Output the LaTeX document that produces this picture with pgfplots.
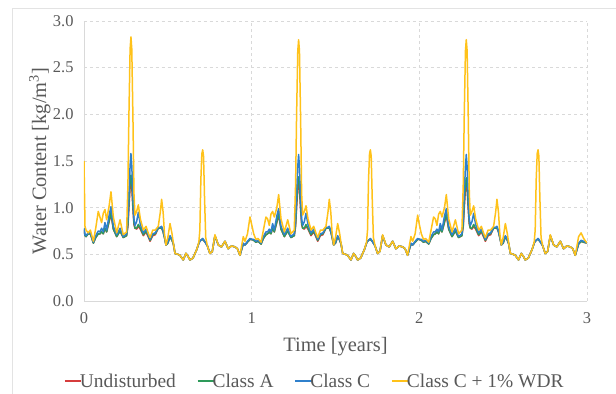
\documentclass[border=0pt]{standalone}
\usepackage{fontspec}
\setmainfont{Liberation Serif}
\usepackage{pgfplots}
\usepackage{pgfplotstable}
\pgfplotsset{compat=1.18}
\definecolor{cU}{HTML}{D63C3C}
\definecolor{cA}{HTML}{2E9A5A}
\definecolor{cC}{HTML}{2F80CC}
\definecolor{cW}{HTML}{FFC21A}
\definecolor{txt}{HTML}{595959}
\pgfplotstableread{
t R G B Y
0.000 0.76 0.77 0.78 1.50
0.006 0.70 0.70 0.71 0.80
0.012 0.69 0.69 0.70 0.76
0.025 0.72 0.72 0.73 0.73
0.038 0.72 0.72 0.73 0.76
0.056 0.62 0.62 0.63 0.64
0.070 0.68 0.68 0.70 0.78
0.085 0.72 0.72 0.75 0.96
0.095 0.72 0.72 0.74 0.90
0.105 0.74 0.74 0.78 0.84
0.115 0.72 0.72 0.74 0.94
0.125 0.78 0.78 0.84 0.98
0.135 0.74 0.74 0.76 0.87
0.150 0.85 0.86 0.92 1.02
0.161 0.93 0.95 1.01 1.17
0.175 0.77 0.77 0.80 0.90
0.195 0.69 0.69 0.71 0.73
0.215 0.75 0.75 0.78 0.87
0.234 0.68 0.68 0.69 0.71
0.254 0.70 0.70 0.72 0.74
0.262 0.80 0.82 0.88 1.25
0.268 1.00 1.05 1.15 2.00
0.275 1.22 1.28 1.45 2.70
0.280 1.30 1.35 1.58 2.83
0.285 1.22 1.28 1.45 2.70
0.292 0.98 1.02 1.12 1.95
0.298 0.82 0.84 0.88 1.15
0.304 0.78 0.78 0.81 0.92
0.314 0.77 0.78 0.85 0.96
0.324 0.80 0.82 0.95 1.03
0.336 0.77 0.78 0.82 0.88
0.354 0.70 0.71 0.73 0.76
0.370 0.74 0.75 0.77 0.80
0.385 0.68 0.69 0.70 0.72
0.394 0.64 0.65 0.66 0.68
0.410 0.70 0.71 0.72 0.76
0.425 0.71 0.72 0.73 0.76
0.443 0.78 0.78 0.79 0.80
0.455 0.78 0.78 0.79 0.95
0.463 0.78 0.79 0.80 1.09
0.472 0.74 0.74 0.75 0.95
0.480 0.68 0.68 0.69 0.72
0.489 0.60 0.60 0.60 0.60
0.500 0.62 0.62 0.63 0.68
0.513 0.69 0.69 0.70 0.83
0.525 0.65 0.65 0.66 0.72
0.533 0.61 0.61 0.62 0.62
0.543 0.51 0.51 0.51 0.51
0.560 0.50 0.50 0.50 0.50
0.572 0.49 0.49 0.49 0.49
0.592 0.44 0.44 0.44 0.44
0.608 0.51 0.51 0.51 0.51
0.620 0.48 0.48 0.48 0.48
0.632 0.44 0.44 0.44 0.44
0.650 0.46 0.46 0.46 0.46
0.672 0.55 0.55 0.55 0.55
0.685 0.62 0.62 0.62 0.63
0.691 0.64 0.64 0.64 0.76
0.697 0.65 0.65 0.65 1.30
0.703 0.66 0.66 0.66 1.58
0.708 0.66 0.66 0.67 1.62
0.713 0.65 0.65 0.66 1.55
0.719 0.64 0.64 0.64 1.10
0.726 0.62 0.62 0.62 0.68
0.736 0.59 0.59 0.59 0.59
0.751 0.51 0.51 0.51 0.51
0.765 0.53 0.53 0.53 0.53
0.781 0.70 0.70 0.70 0.71
0.801 0.60 0.60 0.60 0.60
0.820 0.58 0.58 0.58 0.58
0.841 0.64 0.64 0.64 0.64
0.860 0.56 0.56 0.56 0.56
0.880 0.59 0.59 0.59 0.59
0.900 0.58 0.58 0.58 0.58
0.915 0.56 0.56 0.56 0.56
0.930 0.49 0.49 0.49 0.49
0.950 0.61 0.61 0.62 0.69
0.960 0.60 0.60 0.60 0.64
0.975 0.63 0.63 0.64 0.72
0.990 0.66 0.66 0.67 0.90
1.000 0.66 0.66 0.66 0.82
1.012 0.65 0.65 0.66 0.72
1.025 0.63 0.63 0.64 0.66
1.038 0.64 0.64 0.65 0.67
1.056 0.61 0.61 0.62 0.63
1.070 0.67 0.67 0.69 0.76
1.085 0.71 0.71 0.74 0.90
1.095 0.72 0.72 0.74 0.88
1.105 0.74 0.74 0.77 0.81
1.115 0.72 0.72 0.74 0.93
1.125 0.78 0.78 0.83 0.96
1.135 0.74 0.74 0.76 0.90
1.150 0.84 0.85 0.91 1.00
1.161 0.92 0.94 0.99 1.14
1.175 0.77 0.77 0.80 0.88
1.195 0.69 0.69 0.71 0.74
1.215 0.75 0.75 0.78 0.87
1.234 0.68 0.68 0.69 0.72
1.254 0.70 0.70 0.72 0.76
1.262 0.80 0.82 0.88 1.25
1.268 1.00 1.04 1.15 2.00
1.275 1.20 1.26 1.44 2.68
1.280 1.28 1.33 1.57 2.80
1.285 1.20 1.26 1.44 2.68
1.292 0.97 1.01 1.11 1.95
1.298 0.82 0.84 0.88 1.15
1.304 0.78 0.78 0.81 0.92
1.314 0.77 0.78 0.85 0.96
1.324 0.80 0.82 0.94 1.02
1.336 0.77 0.78 0.82 0.88
1.354 0.70 0.71 0.73 0.76
1.370 0.74 0.75 0.77 0.80
1.385 0.68 0.69 0.70 0.72
1.394 0.64 0.65 0.66 0.68
1.410 0.70 0.71 0.72 0.76
1.425 0.71 0.72 0.73 0.76
1.443 0.78 0.78 0.79 0.80
1.455 0.78 0.78 0.79 0.95
1.463 0.78 0.79 0.80 1.09
1.472 0.74 0.74 0.75 0.95
1.480 0.68 0.68 0.69 0.72
1.489 0.60 0.60 0.60 0.60
1.500 0.62 0.62 0.63 0.68
1.513 0.69 0.69 0.70 0.83
1.525 0.65 0.65 0.66 0.72
1.533 0.61 0.61 0.62 0.62
1.543 0.51 0.51 0.51 0.51
1.560 0.50 0.50 0.50 0.50
1.572 0.49 0.49 0.49 0.49
1.592 0.44 0.44 0.44 0.44
1.608 0.51 0.51 0.51 0.51
1.620 0.48 0.48 0.48 0.48
1.632 0.44 0.44 0.44 0.44
1.650 0.46 0.46 0.46 0.46
1.672 0.55 0.55 0.55 0.55
1.685 0.62 0.62 0.62 0.63
1.691 0.64 0.64 0.64 0.76
1.697 0.65 0.65 0.65 1.30
1.703 0.66 0.66 0.66 1.58
1.708 0.66 0.66 0.67 1.62
1.713 0.65 0.65 0.66 1.55
1.719 0.64 0.64 0.64 1.10
1.726 0.62 0.62 0.62 0.68
1.736 0.59 0.59 0.59 0.59
1.751 0.51 0.51 0.51 0.51
1.765 0.53 0.53 0.53 0.53
1.781 0.70 0.70 0.70 0.71
1.801 0.60 0.60 0.60 0.60
1.820 0.58 0.58 0.58 0.58
1.841 0.64 0.64 0.64 0.64
1.860 0.56 0.56 0.56 0.56
1.880 0.59 0.59 0.59 0.59
1.900 0.58 0.58 0.58 0.58
1.915 0.56 0.56 0.56 0.56
1.930 0.49 0.49 0.49 0.49
1.950 0.61 0.61 0.62 0.69
1.960 0.60 0.60 0.60 0.64
1.975 0.63 0.63 0.64 0.72
1.990 0.66 0.66 0.67 0.92
2.000 0.66 0.66 0.66 0.82
2.012 0.65 0.65 0.66 0.72
2.025 0.63 0.63 0.64 0.66
2.038 0.64 0.64 0.65 0.67
2.056 0.61 0.61 0.62 0.63
2.070 0.67 0.67 0.69 0.76
2.085 0.71 0.71 0.74 0.90
2.095 0.72 0.72 0.74 0.88
2.105 0.74 0.74 0.77 0.81
2.115 0.72 0.72 0.74 0.93
2.125 0.78 0.78 0.83 0.96
2.135 0.74 0.74 0.76 0.90
2.150 0.84 0.85 0.91 1.00
2.161 0.92 0.94 0.99 1.14
2.175 0.77 0.77 0.80 0.88
2.195 0.69 0.69 0.71 0.74
2.215 0.75 0.75 0.78 0.87
2.234 0.68 0.68 0.69 0.72
2.254 0.70 0.70 0.72 0.76
2.262 0.80 0.82 0.88 1.25
2.268 1.00 1.04 1.15 2.00
2.275 1.20 1.25 1.44 2.68
2.280 1.28 1.32 1.57 2.80
2.285 1.20 1.25 1.44 2.68
2.292 0.97 1.01 1.11 1.95
2.298 0.82 0.84 0.88 1.15
2.304 0.78 0.78 0.81 0.92
2.314 0.77 0.78 0.85 0.96
2.324 0.80 0.82 0.94 1.02
2.336 0.77 0.78 0.82 0.88
2.354 0.70 0.71 0.73 0.76
2.370 0.74 0.75 0.77 0.80
2.385 0.68 0.69 0.70 0.72
2.394 0.64 0.65 0.66 0.68
2.410 0.70 0.71 0.72 0.76
2.425 0.71 0.72 0.73 0.76
2.443 0.78 0.78 0.79 0.80
2.455 0.78 0.78 0.79 0.95
2.463 0.78 0.79 0.80 1.09
2.472 0.74 0.74 0.75 0.95
2.480 0.68 0.68 0.69 0.72
2.489 0.60 0.60 0.60 0.60
2.500 0.62 0.62 0.63 0.68
2.513 0.69 0.69 0.70 0.83
2.525 0.65 0.65 0.66 0.72
2.533 0.61 0.61 0.62 0.62
2.543 0.51 0.51 0.51 0.51
2.560 0.50 0.50 0.50 0.50
2.572 0.49 0.49 0.49 0.49
2.592 0.44 0.44 0.44 0.44
2.608 0.51 0.51 0.51 0.51
2.620 0.48 0.48 0.48 0.48
2.632 0.44 0.44 0.44 0.44
2.650 0.46 0.46 0.46 0.46
2.672 0.55 0.55 0.55 0.55
2.685 0.62 0.62 0.62 0.63
2.691 0.64 0.64 0.64 0.76
2.697 0.65 0.65 0.65 1.30
2.703 0.66 0.66 0.66 1.58
2.708 0.66 0.66 0.67 1.62
2.713 0.65 0.65 0.66 1.55
2.719 0.64 0.64 0.64 1.10
2.726 0.62 0.62 0.62 0.68
2.736 0.59 0.59 0.59 0.59
2.751 0.51 0.51 0.51 0.51
2.765 0.53 0.53 0.53 0.53
2.781 0.70 0.70 0.70 0.71
2.801 0.60 0.60 0.60 0.60
2.820 0.58 0.58 0.58 0.58
2.841 0.64 0.64 0.64 0.64
2.860 0.56 0.56 0.56 0.56
2.880 0.59 0.59 0.59 0.59
2.900 0.58 0.58 0.58 0.58
2.915 0.56 0.56 0.56 0.56
2.930 0.49 0.49 0.49 0.49
2.950 0.61 0.61 0.62 0.69
2.965 0.64 0.64 0.65 0.73
2.980 0.63 0.63 0.64 0.67
3.000 0.62 0.62 0.62 0.62
}\wcdata
\begin{document}
\begin{tikzpicture}
\useasboundingbox (-84bp,-93bp) rectangle (532bp,301bp);
\draw[gray!22, line width=0.8bp] (-72bp,-100bp) -- (-72bp,293bp) -- (540bp,293bp);
\begin{axis}[
  at={(0,0)}, anchor=south west,
  scale only axis, width=503bp, height=280bp,
  xmin=0, xmax=3, ymin=0, ymax=3,
  xtick={0,1,2,3}, ytick={0,0.5,...,3},
  /pgf/number format/assume math mode=true,
  yticklabel style={/pgf/number format/fixed, /pgf/number format/fixed zerofill, /pgf/number format/precision=1, xshift=-7bp},
  xticklabel style={yshift=-8bp},
  axis x line*=bottom, axis y line*=left,
  axis line style={draw=gray!30, line width=0.8bp},
  x axis line style={-}, y axis line style={-},
  major tick length=0pt,
  tick label style={font=\fontsize{16.5}{18}\selectfont, text=txt},
  grid=major,
  major grid style={dashed, gray!30, line width=0.7bp},
  xlabel={Time [years]},
  ylabel={Water Content [kg/m\textsuperscript{3}]},
  label style={font=\fontsize{20.5}{22}\selectfont, text=txt},
  xlabel style={at={(axis description cs:0.5,-0.162)}, anchor=center},
  ylabel style={at={(axis description cs:-0.088,0.5)}, anchor=center},
  legend columns=4,
  legend style={at={(axis description cs:0.459,-0.286)}, anchor=center,
    draw=none, fill=none, font=\fontsize{19.5}{21}\selectfont,
    /tikz/every even column/.append style={column sep=19bp},
    inner sep=0pt},
  legend image code/.code={\draw[#1, line width=1.2bp] (0bp,0bp) -- (16.5bp,0bp);},
  legend cell align=left,
  every axis plot/.append style={line width=1.5bp, line join=round},
]
\addplot[cU] table[x=t, y=R] {\wcdata};
\addlegendentry{\hspace{-4bp}\textcolor{txt}{Undisturbed}}
\addplot[cA] table[x=t, y=G] {\wcdata};
\addlegendentry{\hspace{-4bp}\textcolor{txt}{Class A}}
\addplot[cC] table[x=t, y=B] {\wcdata};
\addlegendentry{\hspace{-4bp}\textcolor{txt}{Class C}}
\addplot[cW] table[x=t, y=Y] {\wcdata};
\addlegendentry{\hspace{-4bp}\textcolor{txt}{Class C + 1\% WDR}}
\end{axis}
\end{tikzpicture}
\end{document}
